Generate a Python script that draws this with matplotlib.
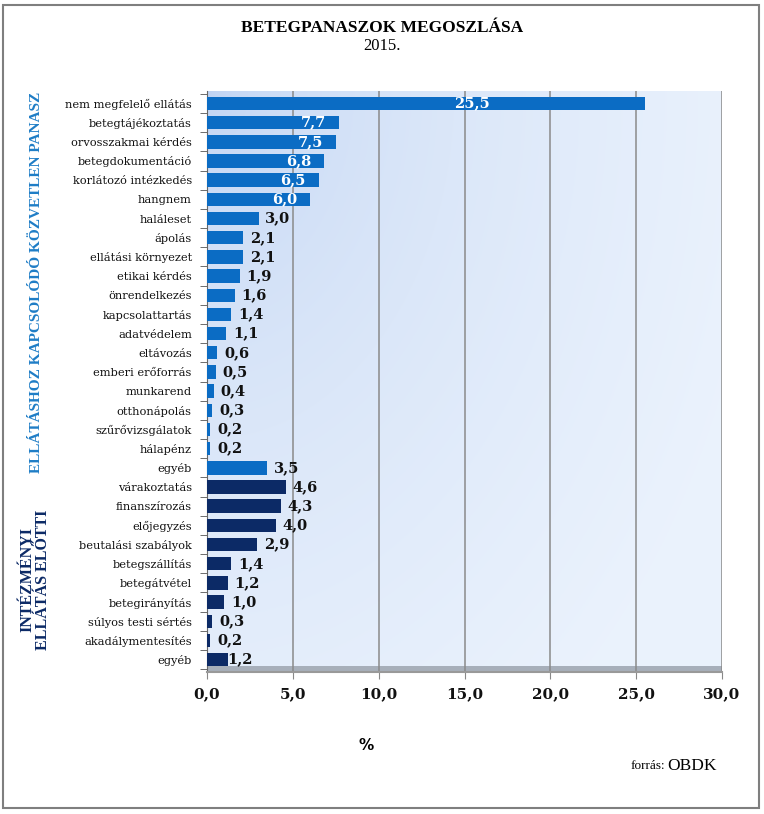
import matplotlib
matplotlib.use("Agg")
import matplotlib.pyplot as plt
import numpy as np
from matplotlib.patches import Rectangle

categories = ["nem megfelelő ellátás", "betegtájékoztatás", "orvosszakmai kérdés",
              "betegdokumentáció", "korlátozó intézkedés", "hangnem", "haláleset",
              "ápolás", "ellátási környezet", "etikai kérdés", "önrendelkezés",
              "kapcsolattartás", "adatvédelem", "eltávozás", "emberi erőforrás",
              "munkarend", "otthonápolás", "szűrővizsgálatok", "hálapénz", "egyéb",
              "várakoztatás", "finanszírozás", "előjegyzés", "beutalási szabályok",
              "betegszállítás", "betegátvétel", "betegirányítás", "súlyos testi sértés",
              "akadálymentesítés", "egyéb"]
values = [25.5, 7.7, 7.5, 6.8, 6.5, 6.0, 3.0, 2.1, 2.1, 1.9, 1.6, 1.4, 1.1, 0.6, 0.5,
          0.4, 0.3, 0.2, 0.2, 3.5,
          4.6, 4.3, 4.0, 2.9, 1.4, 1.2, 1.0, 0.3, 0.2, 1.2]
groups = [0] * 20 + [1] * 10
group_names = ["ELLÁTÁSHOZ KAPCSOLÓDÓ KÖZVETLEN PANASZ", "INTÉZMÉNYI\nELLÁTÁS ELŐTTI"]
xticks = [0, 5, 10, 15, 20, 25, 30]

colors = ["#0B6CC4", "#0C2A66"]
serif = "Liberation Serif"
lab_font = "DejaVu Serif"

fig = plt.figure(figsize=(7.64, 8.14), dpi=100)
ax = fig.add_axes([0.271, 0.1744, 0.674, 0.7138])

n = len(categories)
ax.set_xlim(0, 30)
ax.set_ylim(n - 0.35, -0.65)

# gradient background
gx = np.linspace(0, 1, 300)
gy = np.linspace(0, 1, 300)
GX, GY = np.meshgrid(gx, gy)
r = np.sqrt((GX * 1.0) ** 2 + (GY * 0.8) ** 2)
t = np.clip(r / 1.1, 0, 1) ** 0.5
c0 = np.array([0.74, 0.82, 0.95])
c1 = np.array([0.92, 0.95, 0.99])
img = c0[None, None, :] * (1 - t[..., None]) + c1[None, None, :] * t[..., None]
ax.imshow(img, extent=[0, 30, n - 0.35, -0.65], aspect="auto", zorder=0)

# floor
ax.add_patch(Rectangle((0, 0), 1, 0.011, transform=ax.transAxes, facecolor="#A7AFBA",
                       edgecolor="none", zorder=1, clip_on=False))

for x in xticks[1:]:
    ax.axvline(x, color="#8A8A8A", lw=1.1, zorder=1)

y = np.arange(n)
bar_colors = [colors[g] for g in groups]
ax.barh(y, values, height=0.7, color=bar_colors, zorder=3)

for yi, v in zip(y, values):
    lbl = f"{v:.1f}".replace(".", ",")
    if v > 5:
        ax.text(min(v - 0.75, 16.5), yi, lbl, ha="right", va="center", color="white",
                fontsize=10.5, fontweight="bold", family=lab_font, zorder=4)
    else:
        gap = 0.0 if yi == n - 1 else 0.4
        ax.text(v + gap, yi, lbl, ha="left", va="center", color="#111111",
                fontsize=10.5, fontweight="bold", family=lab_font, zorder=4)

ax.set_yticks(y)
ax.set_yticklabels(categories, family=lab_font, fontsize=8.2, color="#111111")
ax.tick_params(axis="y", which="major", length=0, pad=11)
ax.set_yticks(np.arange(n + 1) - 0.5, minor=True)
ax.tick_params(axis="y", which="minor", length=5, color="#555555", direction="out")

ax.set_xticks(xticks)
ax.set_xticklabels([f"{x:.1f}".replace(".", ",") for x in xticks],
                   family=lab_font, fontsize=11, fontweight="bold", color="#111111")
ax.tick_params(axis="x", length=5, color="#888888", pad=6)

for s in ["top", "right"]:
    ax.spines[s].set_visible(False)
ax.spines["left"].set_color("#666666")
ax.spines["bottom"].set_color("#999999")
ax.spines["bottom"].set_linewidth(1.5)

# group labels
fig.text(37 / 764, 1 - 282 / 814, group_names[0], rotation=90, ha="center", va="center",
         family=serif, fontweight="bold", fontsize=11, color="#1F7DC6")
fig.text(35 / 764, 1 - 580 / 814, group_names[1], rotation=90, ha="center", va="center",
         family=serif, fontweight="bold", fontsize=11.5, color="#0C2A66", linespacing=1.0,
         multialignment="center")

fig.text(382 / 764, 1 - 28 / 814, "BETEGPANASZOK MEGOSZLÁSA", ha="center", va="center",
         family=serif, fontweight="bold", fontsize=12.5, color="black")
fig.text(382 / 764, 1 - 46 / 814, "2015.", ha="center", va="center",
         family=serif, fontsize=12, color="black")
fig.text(366 / 764, 1 - 745 / 814, "%", ha="center", va="center",
         family="DejaVu Sans", fontweight="bold", fontsize=11, color="black")
fig.text(665 / 764, 1 - 766 / 814, "forrás:", ha="right", va="center",
         family=serif, fontsize=9.5, color="black")
fig.text(667 / 764, 1 - 766 / 814, "OBDK", ha="left", va="center",
         family=serif, fontsize=12.5, color="black")

fig.add_artist(Rectangle((3 / 764, 6 / 814), 756 / 764, 803 / 814, transform=fig.transFigure,
                         fill=False, edgecolor="#7F7F7F", lw=1.5))

fig.savefig("out.png", dpi=100, facecolor="white")
